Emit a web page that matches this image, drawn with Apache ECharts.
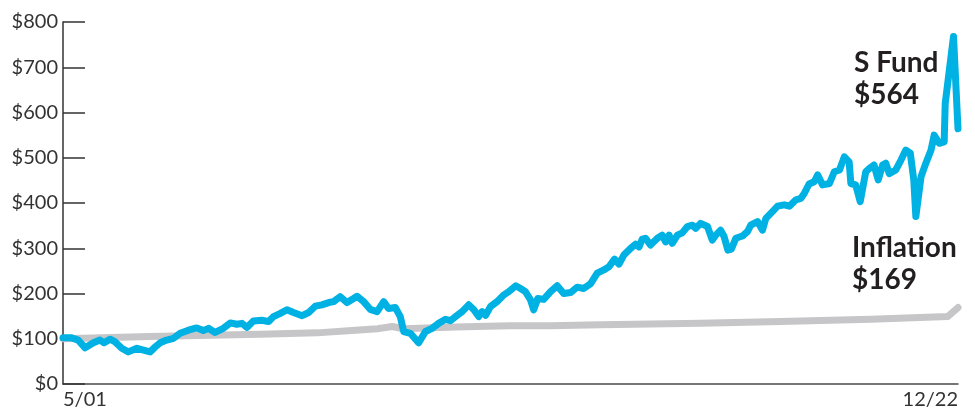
<!DOCTYPE html>
<html>
<head>
<meta charset="utf-8">
<script src="https://cdn.jsdelivr.net/npm/echarts@6/dist/echarts.min.js"></script>
<style>
html,body{margin:0;padding:0;background:#fff;}
#chart{width:975px;height:415px;}
</style>
</head>
<body>
<div id="chart"></div>
<script>
// Months since May 2001 (0 = 5/01, 259 = 12/22)
const sFundMonths = [0,2.5,4.4,6.4,8.8,10.7,11.9,13.6,15.1,17.0,18.9,21.4,23.3,25.2,26.7,28.1,30.0,32.0,33.9,36.3,38.7,40.6,42.1,44.0,46.4,48.4,50.3,51.8,53.2,55.1,57.6,59.5,60.9,62.9,64.8,66.7,69.2,71.1,73.0,74.9,76.9,78.3,80.2,82.2,84.1,85.1,87.0,88.9,90.9,92.8,94.2,96.2,97.6,98.6,100.5,102.9,104.9,106.8,108.7,110.7,112.1,114.1,115.5,117.4,118.9,120.3,121.3,122.3,123.7,125.6,127.6,129.0,131.0,132.4,133.8,135.3,136.2,137.4,139.1,141.1,143.0,144.9,146.9,148.8,150.7,152.7,154.6,156.5,158.0,159.6,160.9,162.3,164.3,165.7,166.7,167.6,168.6,170.0,172.0,173.4,174.4,175.4,176.3,177.8,179.2,180.7,182.1,183.1,184.5,186.5,187.9,188.9,190.3,191.3,192.4,193.4,194.7,196.6,198.1,199.0,201.0,202.4,203.4,205.3,206.8,208.7,210.2,212.1,213.5,214.5,215.9,217.4,218.4,219.8,221.8,223.2,224.7,226.1,227.5,228.0,229.4,230.7,232.3,233.3,234.7,235.9,237.2,238.1,239.1,241.0,242.5,243.9,245.2,246.2,246.8,248.3,249.7,251.2,252.1,253.6,255.0,255.3,257.7,259];
const sFundValues = [102,102,97,80,91,97,91,99,93,79,71,79,75,71,82,91,97,101,112,119,124,118,123,114,123,135,132,134,125,139,141,138,149,156,164,158,151,158,172,175,180,182,193,180,189,194,182,165,160,182,167,169,149,116,112,91,116,123,134,143,140,152,160,175,164,149,160,152,171,182,197,204,217,211,204,186,164,189,187,204,217,200,202,214,211,222,245,252,259,276,265,285,300,309,303,320,322,307,322,329,314,329,311,329,334,348,351,344,355,348,318,329,340,326,296,298,322,327,337,351,359,340,366,381,393,396,393,407,410,421,442,447,462,440,443,469,473,502,491,443,440,403,469,476,484,451,484,488,465,473,495,517,510,451,370,458,488,517,550,532,535,620,768,564];

const inflationMonths = [0,25,57,73.6,84.6,91,95.3,98.5,113.6,129.5,141,155.6,184.5,207.7,233.8,256,259];
const inflationValues = [100,105,110,113,119,122,127,122,126,129,129,131,134,138,143,149,169];

const seriesNames = ['S Fund','Inflation'];
const xTickLabels = ['5/01','12/22'];
const yTickLabels = ['$0','$100','$200','$300','$400','$500','$600','$700','$800'];

const pair = (xs, ys) => xs.map((x, i) => [x, ys[i]]);
const lastVal = arr => arr[arr.length - 1];

const chart = echarts.init(document.getElementById('chart'), null, {renderer: 'canvas'});
const labelFont = 'Lato, "Open Sans", sans-serif';

chart.setOption({
  animation: false,
  backgroundColor: '#fff',
  grid: {left: 63, right: 17, top: 22, bottom: 31, containLabel: false},
  xAxis: {
    type: 'value',
    min: 0,
    max: 259,
    interval: 259,
    axisLine: {show: true, lineStyle: {color: '#4a4a4a', width: 1.5}},
    axisTick: {show: false},
    splitLine: {show: false},
    axisLabel: {
      color: '#333',
      fontFamily: labelFont,
      fontSize: 20,
      margin: 6,
      alignMinLabel: 'left',
      alignMaxLabel: 'right',
      formatter: v => (v === 0 ? xTickLabels[0] : xTickLabels[1])
    }
  },
  yAxis: {
    type: 'value',
    min: 0,
    max: 800,
    interval: 100,
    axisLine: {show: true, lineStyle: {color: '#333', width: 1.5}},
    axisTick: {show: true, inside: true, length: 22, lineStyle: {color: '#333', width: 1.5}},
    splitLine: {show: false},
    axisLabel: {
      color: '#333',
      fontFamily: labelFont,
      fontSize: 20,
      margin: 5,
      formatter: v => yTickLabels[Math.round(v / 100)]
    }
  },
  series: [
    {
      name: seriesNames[1],
      type: 'line',
      data: pair(inflationMonths, inflationValues),
      showSymbol: false,
      z: 2,
      lineStyle: {color: '#c6c6c8', width: 7, cap: 'round', join: 'round'}
    },
    {
      name: seriesNames[0],
      type: 'line',
      data: pair(sFundMonths, sFundValues),
      showSymbol: false,
      z: 3,
      lineStyle: {color: '#00b1e3', width: 7, cap: 'round', join: 'round'}
    }
  ],
  graphic: [
    {type: 'text', left: 854, top: 49, z: 10,
      style: {text: seriesNames[0], font: 'bold 28px ' + labelFont, fill: '#231f20'}},
    {type: 'text', left: 854, top: 81, z: 10,
      style: {text: '$' + lastVal(sFundValues), font: 'bold 28px ' + labelFont, fill: '#231f20'}},
    {type: 'text', left: 852, top: 234, z: 10,
      style: {text: seriesNames[1], font: 'bold 28px ' + labelFont, fill: '#231f20'}},
    {type: 'text', left: 852, top: 266, z: 10,
      style: {text: '$' + lastVal(inflationValues), font: 'bold 28px ' + labelFont, fill: '#231f20'}}
  ]
});
</script>
</body>
</html>
